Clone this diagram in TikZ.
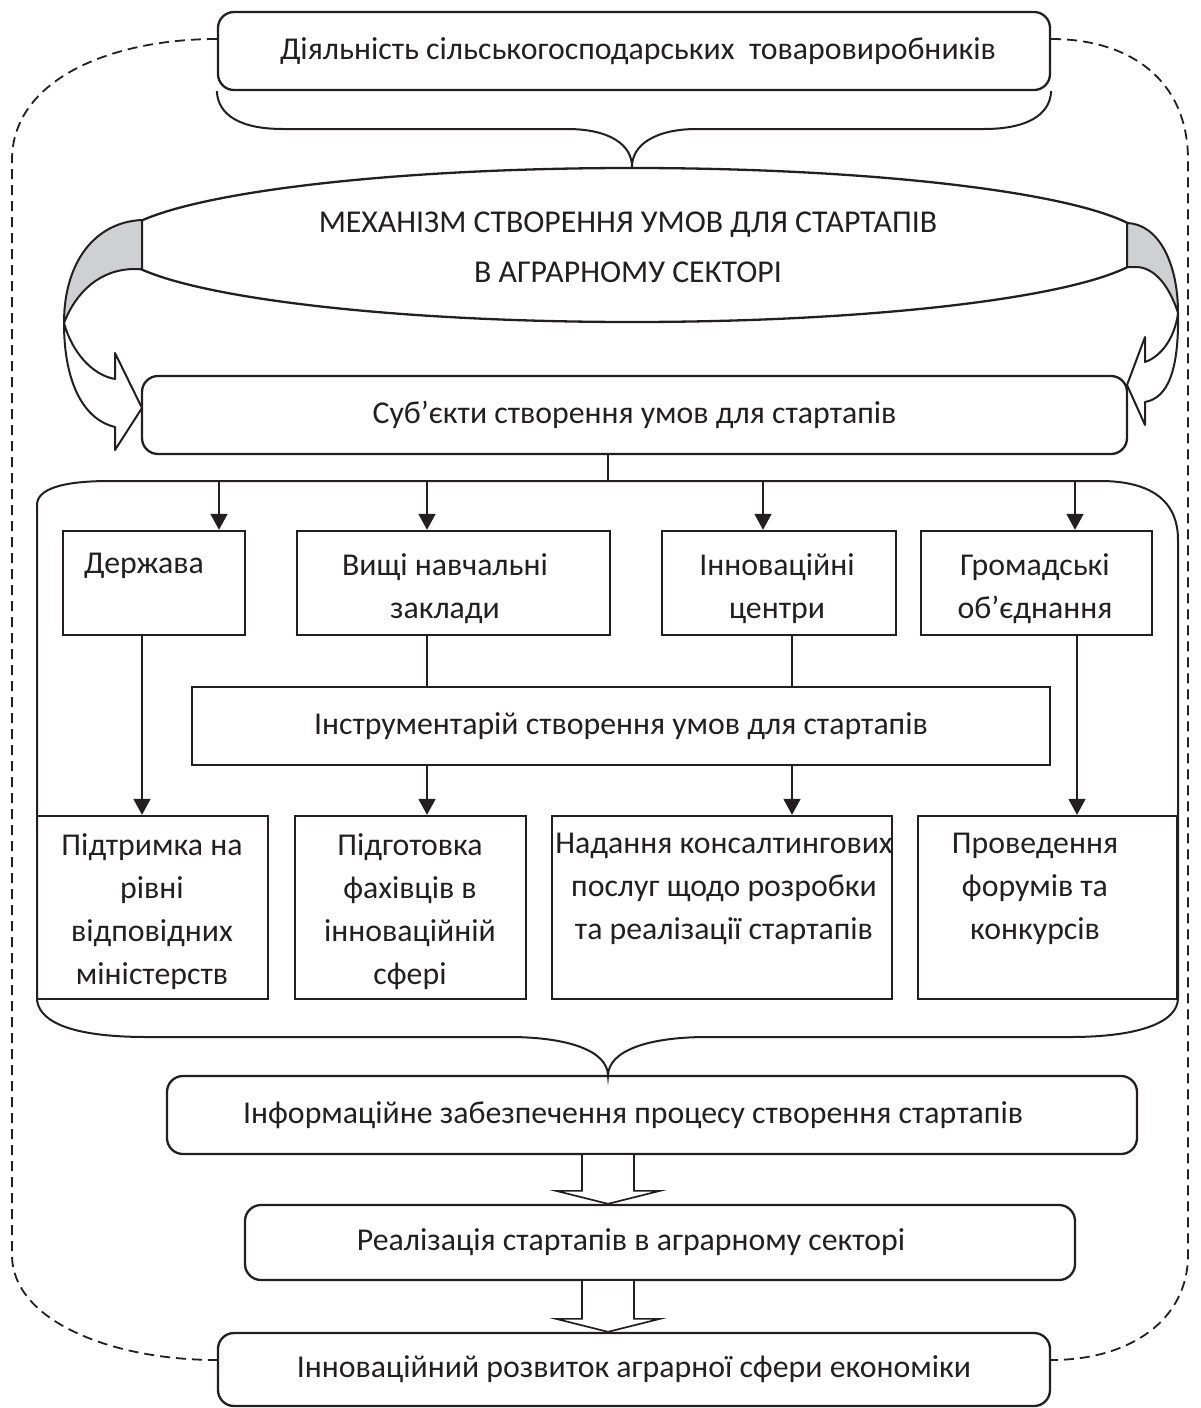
\documentclass[tikz,border=0pt]{standalone}
\usepackage{fontspec}
\setmainfont{Carlito}
\usetikzlibrary{positioning,arrows.meta,shapes.geometric}
\definecolor{ink}{RGB}{35,31,32}
\definecolor{capgray}{RGB}{207,208,210}

% hollow block arrow: #1 start on box bottom, #2 tip on box top
\newcommand{\hollowarrow}[2]{%
  \draw[conn, fill=white, line join=miter]
    ([xshift=-26pt]#1) -- ([xshift=-26pt,yshift=13pt]#2) -- ([xshift=-52pt,yshift=13pt]#2)
    -- (#2) -- ([xshift=52pt,yshift=13pt]#2) -- ([xshift=26pt,yshift=13pt]#2) -- ([xshift=26pt]#1);}

\begin{document}
\begin{tikzpicture}[x=1pt,y=-1pt,
  every node/.style={font=\fontsize{31.8}{43}\selectfont, text=ink},
  rbox/.style={draw=ink, line width=2.3pt, rounded corners=16pt, inner sep=0pt},
  sbox/.style={draw=ink, line width=2.3pt, inner sep=0pt},
  btxt/.style={inner sep=0pt, align=center},
  conn/.style={draw=ink, line width=1.7pt},
  arr/.style={conn, -{Triangle[length=16pt,width=17pt]}},
  loopline/.style={draw=ink, line width=1.8pt, dash pattern=on 10pt off 6pt},
  band/.style={draw=ink, line width=2pt, line join=round}]
  \useasboundingbox (0,0) rectangle (1200,1408);

  % top level
  \node[rbox, minimum width=832pt, minimum height=78pt] (top) at (634,51) {};
  \node[btxt] (topt) at (638,51) {Діяльність сільськогосподарських \ товаровиробників};
  \node[draw=ink, line width=2.3pt, ellipse, minimum width=1034pt, minimum height=154pt,
        inner sep=0pt] (mech) at (632,245) {};
  \node[btxt] (mecht) at (628,247) {МЕХАНІЗМ СТВОРЕННЯ УМОВ ДЛЯ СТАРТАПІВ\\[7pt]В АГРАРНОМУ СЕКТОРІ};
  \node[rbox, minimum width=985pt, minimum height=78pt] (sub) at (634.5,415) {Суб’єкти створення умов для стартапів};

  \draw[conn, line width=2pt] (top.south west) .. controls (218,115) and (240,129) .. (283,129)
    -- (567,129) .. controls (610,129) and (632,145) .. (mech.north)
    .. controls (632,145) and (655,129) .. (697,129) -- (984,129)
    .. controls (1027,129) and (1050,115) .. (top.south east);

  % side arrows
  \draw[band, fill=capgray] (142,220) .. controls (95,222) and (64,262) .. (64,323)
    .. controls (76,292) and (100,269) .. (135,269) -- (142,269) -- cycle;
  \draw[band, fill=white] (64,323) .. controls (64,385) and (85,420) .. (115,427) -- (115,450)
    -- (142,408) -- (115,353) -- (115,379) .. controls (92,375) and (72,352) .. (64,323);
  \draw[band, fill=capgray] (1127,223) .. controls (1158,224) and (1178,262) .. (1178,313)
    .. controls (1170,288) and (1156,268) .. (1137,267) -- (1127,267) -- cycle;
  \draw[band, fill=white] (1178,313) .. controls (1179,370) and (1168,398) .. (1145,402) -- (1145,425)
    -- (1127,385) -- (1145,337) -- (1145,362) .. controls (1162,356) and (1175,337) .. (1178,313);

  % subjects
  \node[sbox, minimum width=182pt, minimum height=104pt] (dz) at (154,583) {};
  \node[sbox, minimum width=313pt, minimum height=104pt] (vnz) at (453.5,583) {};
  \node[sbox, minimum width=234pt, minimum height=104pt] (ic) at (779,583) {};
  \node[sbox, minimum width=231pt, minimum height=104pt] (go) at (1036.5,583) {};
  \node[btxt, anchor=north] (dzt) at (144,553) {Держава};
  \node[btxt, anchor=north] (vnzt) at (445,553) {Вищі навчальні\\заклади};
  \node[btxt, anchor=north] (ict) at (777,553) {Інноваційні\\центри};
  \node[btxt, anchor=north] (got) at (1035,553) {Громадські\\об’єднання};

  \node[sbox, minimum width=858pt, minimum height=78pt] (tool) at (621,726) {Інструментарій створення умов для стартапів};

  % directions
  \node[sbox, minimum width=231pt, minimum height=183pt] (pt) at (152.5,907.5) {};
  \node[sbox, minimum width=231pt, minimum height=183pt] (pf) at (410.5,907.5) {};
  \node[sbox, minimum width=340pt, minimum height=183pt] (nk) at (722,907.5) {};
  \node[sbox, minimum width=259pt, minimum height=183pt] (fk) at (1047.5,907.5) {};
  \node[btxt, anchor=north] (ptt) at (152,833) {Підтримка на\\рівні\\відповідних\\міністерств};
  \node[btxt, anchor=north] (pft) at (410,833) {Підготовка\\фахівців в\\інноваційній\\сфері};
  \node[btxt, anchor=north] (nkt) at (724,833) {Надання консалтингових\\послуг щодо розробки\\та реалізації стартапів};
  \node[btxt, anchor=north] (fkt) at (1035,833) {Проведення\\форумів та\\конкурсів};

  % bracket round the subjects
  \coordinate (mid) at (608,0);
  \draw[conn, line width=2pt] (37,1000) -- (37,505) .. controls (37,489) and (62,481) .. (110,481)
    -- (1100,481) .. controls (1150,481) and (1178,500) .. (1178,540) -- (1178,998)
    .. controls (1178,1022) and (1140,1037) .. (1070,1037) -- (707,1037)
    .. controls (650,1037) and (608,1050) .. (608,1076)
    .. controls (608,1050) and (566,1037) .. (509,1037) -- (147,1037)
    .. controls (80,1037) and (40,1025) .. (37,1000);
  \draw[conn] (sub.south -| mid) -- (608,481);

  \coordinate (a1) at (219,481);
  \coordinate (a2) at (427,481);
  \coordinate (a3) at (763,481);
  \coordinate (a4) at (1075,481);
  \draw[arr] (a1) -- (a1 |- dz.north);
  \draw[arr] (a2) -- (a2 |- vnz.north);
  \draw[arr] (a3) -- (a3 |- ic.north);
  \draw[arr] (a4) -- (a4 |- go.north);

  \coordinate (c1) at (142,0);
  \coordinate (c2) at (427,0);
  \coordinate (c3) at (792,0);
  \coordinate (c4) at (1077,0);
  \draw[arr] (dz.south -| c1) -- (pt.north -| c1);
  \draw[conn] (vnz.south -| c2) -- (tool.north -| c2);
  \draw[arr] (tool.south -| c2) -- (pf.north -| c2);
  \draw[conn] (ic.south -| c3) -- (tool.north -| c3);
  \draw[arr] (tool.south -| c3) -- (nk.north -| c3);
  \draw[arr] (go.south -| c4) -- (fk.north -| c4);

  % lower chain
  \node[rbox, minimum width=970pt, minimum height=78pt] (inf) at (652,1115) {};
  \node[btxt] (inft) at (633,1115) {Інформаційне забезпечення процесу створення стартапів};
  \node[rbox, minimum width=830pt, minimum height=75pt] (real) at (660,1242.5) {};
  \node[btxt] (realt) at (631,1242) {Реалізація стартапів в аграрному секторі};
  \node[rbox, minimum width=832pt, minimum height=73pt] (innov) at (634,1369.5) {Інноваційний розвиток аграрної сфери економіки};

  \hollowarrow{inf.south -| mid}{real.north -| mid}
  \hollowarrow{real.south -| mid}{innov.north -| mid}

  % feedback loop
  \draw[loopline] ([yshift=12pt]top.west) .. controls (110,39) and (12,80) .. (12,160) -- (12,1255)
    .. controls (12,1320) and (110,1360) .. ([yshift=9.5pt]innov.west);
  \draw[loopline] ([yshift=12pt]top.east) .. controls (1130,39) and (1188,80) .. (1188,160) -- (1188,1255)
    .. controls (1188,1320) and (1130,1360) .. ([yshift=9.5pt]innov.east);
\end{tikzpicture}
\end{document}
